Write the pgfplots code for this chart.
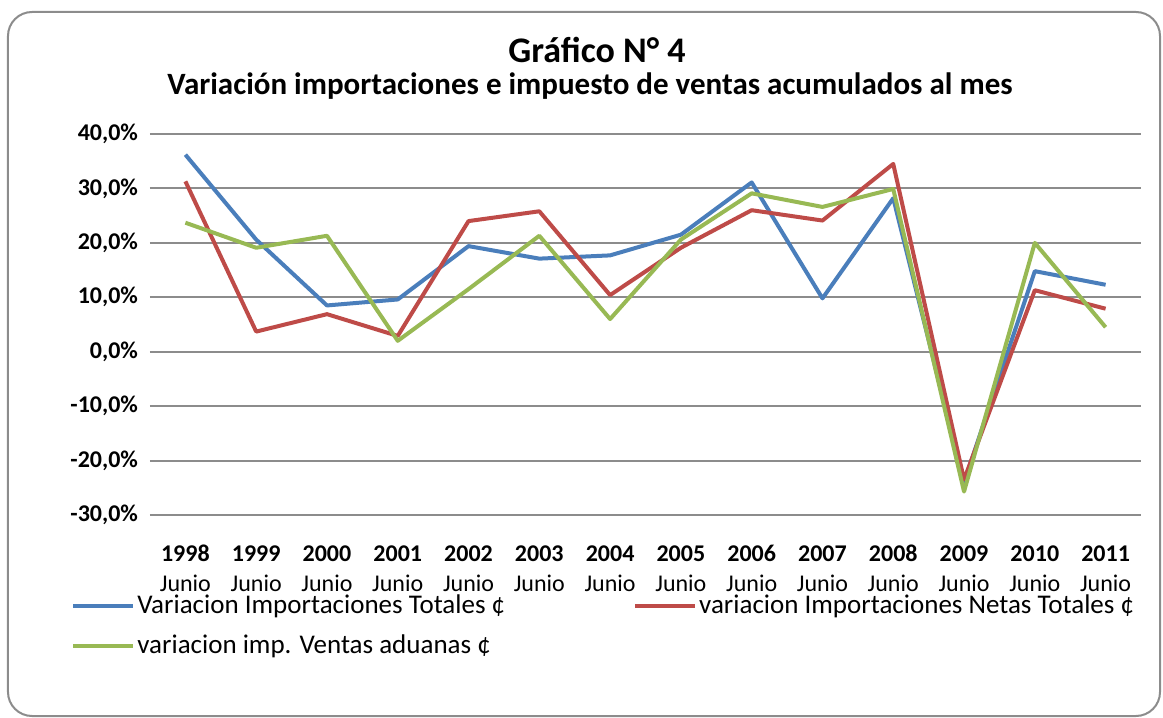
\documentclass[border=0pt]{standalone}
\usepackage{pgfplots}
\pgfplotsset{compat=1.18}
\usepackage{fontspec}
\setmainfont{Carlito}
\definecolor{cblue}{HTML}{4A7EBB}
\definecolor{cred}{HTML}{BE4B48}
\definecolor{cgreen}{HTML}{98B954}
\definecolor{cgrid}{HTML}{8C8C8C}
\DeclareRobustCommand{\yl}[1]{\rule{0pt}{10.5pt}\textbf{#1}\\\rule{0pt}{10.5pt}Junio}
\begin{document}
\begin{tikzpicture}
\begin{axis}[
  at={(0pt,0pt)}, anchor=south west,
  scale only axis, width=495.5pt, height=190.5pt,
  xmin=-0.5, xmax=13.5, ymin=-30, ymax=40,
  xtick={0,...,13},
  xticklabels={{\yl{1998}},{\yl{1999}},{\yl{2000}},{\yl{2001}},{\yl{2002}},{\yl{2003}},{\yl{2004}},{\yl{2005}},{\yl{2006}},{\yl{2007}},{\yl{2008}},{\yl{2009}},{\yl{2010}},{\yl{2011}}},
  xticklabel style={align=center, font=\fontsize{12}{15}\selectfont, anchor=north, inner sep=0pt, yshift=-12.5pt},
  ytick={-30,-20,-10,0,10,20,30,40},
  yticklabels={{-30,0\%},{-20,0\%},{-10,0\%},{0,0\%},{10,0\%},{20,0\%},{30,0\%},{40,0\%}},
  yticklabel style={font=\bfseries\fontsize{12}{14}\selectfont, xshift=-2.5pt},
  ymajorgrids, grid style={color=cgrid, line width=1pt},
  major tick length=0pt,
  axis line style={draw=none},
  clip=false,
  legend columns=2,
  legend cell align=left,
  legend style={at={(-0.0797,-0.2035)}, anchor=north west, draw=none, fill=none,
    inner sep=0pt, nodes={inner sep=1pt}, row sep=7pt,
    font=\fontsize{13.5}{15.5}\selectfont,
    /tikz/every even column/.append style={column sep=63pt}},
  legend image code/.code={\draw[#1] (0pt,0pt) -- (30pt,0pt);},
  every axis plot/.append style={line width=2pt, line join=round},
]
\addplot[cblue] coordinates {(0,36.2) (1,20.6) (2,8.5) (3,9.6) (4,19.4) (5,17.1) (6,17.7) (7,21.5) (8,31.1) (9,9.8) (10,28.2) (11,-24.0) (12,14.8) (13,12.3)};
\addlegendentry{Variacion Importaciones Totales ¢}
\addplot[cred] coordinates {(0,31.3) (1,3.7) (2,6.9) (3,2.9) (4,24.0) (5,25.8) (6,10.4) (7,19.1) (8,26.0) (9,24.1) (10,34.5) (11,-23.5) (12,11.3) (13,7.9)};
\addlegendentry{variacion Importaciones Netas Totales ¢}
\addplot[cgreen] coordinates {(0,23.7) (1,19.1) (2,21.3) (3,2.0) (4,11.5) (5,21.3) (6,6.0) (7,20.6) (8,29.1) (9,26.6) (10,29.9) (11,-25.7) (12,20.0) (13,4.5)};
\addlegendentry{variacion imp. Ventas aduanas ¢}
\end{axis}
\node[font=\bfseries\fontsize{18}{21}\selectfont] at (223.5pt,232.5pt) {Gráfico N° 4};
\node[font=\bfseries\fontsize{15.5}{18}\selectfont] at (220pt,214.5pt) {Variación importaciones e impuesto de ventas acumulados al mes};
\draw[color=cgrid, line width=1pt, rounded corners=12pt] (-71pt,-100.5pt) rectangle (505pt,251.5pt);
\pgfresetboundingbox
\path (-75pt,-101.5pt) rectangle (506.5pt,257.5pt);
\end{tikzpicture}
\end{document}
